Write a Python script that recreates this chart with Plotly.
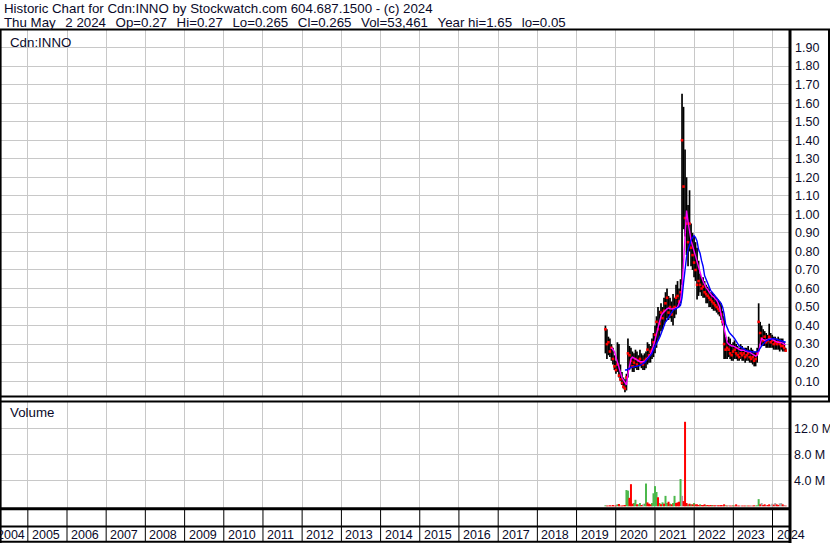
import pandas as pd
import plotly.graph_objects as go

W, H = 830, 543
FONT = "Liberation Sans, Arial, Helvetica, sans-serif"
TXT = "#0a0a2a"

# ---------------- data ----------------
first_bar = "2019-09-27"
bar_step_days = 14

high = [
    0.40, 0.38, 0.34, 0.33, 0.30, 0.28, 0.24, 0.21, 0.31, 0.30,
    0.19, 0.15, 0.12, 0.11, 0.14, 0.33, 0.29, 0.28, 0.26, 0.25,
    0.27, 0.26, 0.24, 0.27, 0.25, 0.24, 0.25, 0.26, 0.31, 0.30,
    0.29, 0.33, 0.36, 0.40, 0.45, 0.50, 0.48, 0.52, 0.50, 0.55,
    0.58, 0.60, 0.56, 0.55, 0.53, 0.57, 0.55, 0.62, 0.64, 0.60,
    0.65, 1.65, 1.58, 1.35, 1.20, 1.05, 1.13, 0.95, 0.90, 0.88,
    0.85, 0.82, 0.75, 0.68, 0.66, 0.66, 0.64, 0.62, 0.61, 0.60,
    0.58, 0.58, 0.57, 0.56, 0.55, 0.54, 0.53, 0.52, 0.48, 0.45,
    0.34, 0.32, 0.34, 0.33, 0.30, 0.31, 0.32, 0.30, 0.29, 0.28,
    0.30, 0.29, 0.28, 0.28, 0.28, 0.29, 0.27, 0.28, 0.27, 0.26,
    0.26, 0.28, 0.52, 0.42, 0.40, 0.38, 0.37, 0.36, 0.35, 0.41,
    0.36, 0.35, 0.34, 0.34, 0.33, 0.34, 0.33, 0.33, 0.33, 0.31,
    0.28,
]
low = [
    0.25, 0.22, 0.24, 0.23, 0.21, 0.19, 0.16, 0.14, 0.15, 0.12,
    0.10, 0.08, 0.06, 0.04, 0.05, 0.12, 0.16, 0.17, 0.15, 0.15,
    0.17, 0.16, 0.16, 0.18, 0.17, 0.16, 0.16, 0.17, 0.19, 0.20,
    0.20, 0.22, 0.23, 0.25, 0.28, 0.32, 0.34, 0.37, 0.38, 0.40,
    0.42, 0.44, 0.43, 0.44, 0.42, 0.40, 0.44, 0.46, 0.50, 0.50,
    0.52, 0.62, 0.92, 0.88, 0.78, 0.72, 0.80, 0.72, 0.70, 0.66,
    0.64, 0.54, 0.56, 0.58, 0.56, 0.55, 0.55, 0.52, 0.52, 0.50,
    0.50, 0.49, 0.48, 0.48, 0.47, 0.46, 0.45, 0.43, 0.40, 0.22,
    0.22, 0.22, 0.23, 0.22, 0.21, 0.21, 0.22, 0.22, 0.21, 0.21,
    0.22, 0.21, 0.21, 0.20, 0.21, 0.21, 0.20, 0.20, 0.19, 0.18,
    0.18, 0.20, 0.26, 0.30, 0.29, 0.29, 0.29, 0.28, 0.28, 0.28,
    0.28, 0.28, 0.27, 0.27, 0.27, 0.27, 0.26, 0.27, 0.26, 0.26,
    0.26,
]
close = [
    0.38, 0.30, 0.31, 0.26, 0.28, 0.22, 0.18, 0.16, 0.19, 0.13,
    0.11, 0.09, 0.07, 0.06, 0.12, 0.25, 0.24, 0.21, 0.18, 0.20,
    0.22, 0.19, 0.21, 0.22, 0.20, 0.19, 0.21, 0.22, 0.27, 0.24,
    0.26, 0.27, 0.31, 0.35, 0.42, 0.38, 0.41, 0.47, 0.44, 0.48,
    0.52, 0.55, 0.47, 0.50, 0.46, 0.49, 0.50, 0.55, 0.56, 0.53,
    0.58, 1.40, 1.15, 0.98, 0.95, 0.85, 0.95, 0.82, 0.78, 0.74,
    0.70, 0.62, 0.64, 0.62, 0.60, 0.61, 0.58, 0.57, 0.56, 0.55,
    0.54, 0.53, 0.52, 0.51, 0.50, 0.49, 0.48, 0.46, 0.42, 0.30,
    0.27, 0.28, 0.27, 0.25, 0.24, 0.26, 0.27, 0.25, 0.24, 0.23,
    0.25, 0.24, 0.25, 0.23, 0.24, 0.25, 0.23, 0.22, 0.23, 0.21,
    0.22, 0.25, 0.42, 0.36, 0.33, 0.32, 0.34, 0.31, 0.32, 0.34,
    0.31, 0.32, 0.30, 0.31, 0.30, 0.31, 0.30, 0.29, 0.29, 0.28,
    0.265,
]
ma_fast = [
    None, None, None, None,
    0.28, 0.27, 0.26, 0.23, 0.20, 0.17,
    0.14, 0.12, 0.105, 0.09, 0.08, 0.14, 0.19, 0.22, 0.23, 0.225,
    0.22, 0.215, 0.21, 0.205, 0.205, 0.205, 0.205, 0.215, 0.225, 0.235,
    0.245, 0.265, 0.29, 0.32, 0.355, 0.39, 0.43, 0.45, 0.465, 0.475,
    0.48, 0.49, 0.495, 0.49, 0.49, 0.49, 0.49, 0.495, 0.50, 0.52,
    0.54, 0.60, 0.74, 0.88, 1.02, 0.96, 0.90, 0.86, 0.83, 0.80,
    0.78, 0.75, 0.72, 0.69, 0.66, 0.64, 0.62, 0.605, 0.595, 0.58,
    0.57, 0.56, 0.555, 0.545, 0.537, 0.52, 0.50, 0.46, 0.42, 0.37,
    0.33, 0.31, 0.30, 0.295, 0.29, 0.29, 0.285, 0.28, 0.275, 0.27,
    0.267, 0.267, 0.267, 0.262, 0.258, 0.258, 0.258, 0.25, 0.245, 0.24,
    0.235, 0.24, 0.26, 0.30, 0.33, 0.325, 0.32, 0.322, 0.325, 0.33,
    0.33, 0.325, 0.32, 0.315, 0.312, 0.31, 0.31, 0.308, 0.305, 0.30,
    0.295,
]
ma_slow = [
    None, None, None, None, None, None, None, None, None, None,
    None, None, None, 0.16, 0.16, 0.165, 0.17, 0.175, 0.177, 0.177,
    0.178, 0.18, 0.181, 0.185, 0.19, 0.195, 0.20, 0.21, 0.22, 0.23,
    0.24, 0.25, 0.27, 0.285, 0.30, 0.32, 0.335, 0.355, 0.38, 0.40,
    0.42, 0.43, 0.445, 0.456, 0.47, 0.483, 0.487, 0.49, 0.495, 0.50,
    0.51, 0.55, 0.63, 0.71, 0.77, 0.81, 0.84, 0.86, 0.875, 0.885,
    0.875, 0.855, 0.81, 0.79, 0.75, 0.72, 0.67, 0.65, 0.63, 0.60,
    0.59, 0.58, 0.57, 0.56, 0.555, 0.545, 0.53, 0.52, 0.50, 0.465,
    0.41, 0.385, 0.37, 0.357, 0.35, 0.34, 0.33, 0.315, 0.30, 0.29,
    0.285, 0.28, 0.273, 0.268, 0.265, 0.263, 0.26, 0.259, 0.258, 0.257,
    0.256, 0.258, 0.265, 0.28, 0.29, 0.30, 0.31, 0.318, 0.322, 0.325,
    0.328, 0.33, 0.33, 0.328, 0.326, 0.324, 0.322, 0.32, 0.316, 0.313,
    0.31,
]
volume_m = [
    0.15, 0.10, 0.10, 0.15, 0.10, 0.20, 0.10, 0.10, 0.30, 0.35,
    0.10, 0.10, 0.15, 0.20, 2.50, 2.40, 1.30, 3.40, 0.40, 0.50,
    1.00, 0.30, 0.30, 0.50, 0.20, 0.30, 0.40, 3.50, 0.60, 0.40,
    0.30, 0.50, 2.00, 3.10, 2.20, 1.40, 0.50, 0.30, 0.60, 0.40,
    1.60, 0.50, 0.70, 0.40, 0.30, 0.50, 1.60, 0.50, 0.60, 0.70,
    4.20, 1.60, 0.80, 13.0, 0.50, 0.30, 0.40, 0.30, 0.30, 0.50,
    0.30, 0.30, 0.20, 0.30, 0.20, 0.20, 0.30, 0.20, 0.20, 0.15,
    0.20, 0.20, 0.15, 0.15, 0.20, 0.15, 0.15, 0.20, 0.15, 0.30,
    0.15, 0.10, 0.15, 0.10, 0.10, 0.15, 0.10, 0.30, 0.10, 0.10,
    0.10, 0.10, 0.10, 0.10, 0.10, 0.10, 0.10, 0.10, 0.10, 0.15,
    0.10, 0.15, 1.10, 0.30, 0.50, 0.20, 0.30, 0.20, 0.20, 0.30,
    0.15, 0.40, 0.25, 0.50, 0.30, 0.20, 0.45, 0.50, 0.30, 0.20,
    0.10,
]
# g = up day (green), r = down day (red), n = unchanged (grey)
volume_dir = (
    "grrrrrrrgr" "rrrrggrrrg" "grggrnggrr" "rggggrgrgr" "ggrgrggrrr"
    "gnrrrgrgrg" "rrrgrrrgrr" "rgrrnrrrrr" "grnrrgrrrr" "nrrrgrrnrr"
    "gggrnrrnrr" "nnrnrrnnrn" "r"
)

years = list(range(2004, 2025))
price_ticks = [0.10, 0.20, 0.30, 0.40, 0.50, 0.60, 0.70, 0.80, 0.90, 1.00,
               1.10, 1.20, 1.30, 1.40, 1.50, 1.60, 1.70, 1.80, 1.90]
volume_ticks = [4e6, 8e6, 12e6]
volume_tick_text = ["4.0 M", "8.0 M", "12.0 M"]

header_1 = "Historic Chart for Cdn:INNO by Stockwatch.com 604.687.1500 - (c) 2024"
header_2 = ("Thu May  2 2024  Op=0.27  Hi=0.27  Lo=0.265  Cl=0.265  "
            "Vol=53,461  Year hi=1.65  lo=0.05")
symbol_label = "Cdn:INNO"
volume_label = "Volume"

# ---------------- layout geometry (pixels) ----------------
X_RANGE = ["2004-04-26", "2024-06-12"]
PLOT_L, PLOT_R = 1, 790
PRICE_TOP, PRICE_BOT = 29, 396
VOL_TOP, VOL_BOT = 401, 509


def px(x):
    return x / W


def py(y):
    return 1 - y / H


dates = pd.date_range(first_bar, periods=len(close), freq=f"{bar_step_days}D")
dstr = [d.strftime("%Y-%m-%d") for d in dates]
year_starts = [f"{y}-01-01" for y in years[1:]]

fig = go.Figure()

# high-low bars
bx, by = [], []
for d, lo, hi in zip(dstr, low, high):
    bx += [d, d, None]
    by += [lo, hi, None]
fig.add_trace(go.Scatter(x=bx, y=by, mode="lines",
                         line=dict(color="#000000", width=1.7),
                         xaxis="x", yaxis="y", hoverinfo="skip"))
# close marks
fig.add_trace(go.Scatter(x=dstr, y=close, mode="markers",
                         marker=dict(symbol="square", size=2.6, color="#ff0000",
                                     line=dict(width=0)),
                         xaxis="x", yaxis="y", hoverinfo="skip"))
# moving averages
fig.add_trace(go.Scatter(x=dstr, y=ma_fast, mode="lines",
                         line=dict(color="#ff00ff", width=1.4),
                         xaxis="x", yaxis="y", hoverinfo="skip"))
fig.add_trace(go.Scatter(x=dstr, y=ma_slow, mode="lines",
                         line=dict(color="#0000ff", width=1.4),
                         xaxis="x", yaxis="y", hoverinfo="skip"))

# volume bars
vol_colors = {"g": "#4cb84c", "n": "#a8a8a8", "r": "#ff0000"}
for code, col in vol_colors.items():
    vx, vy = [], []
    for d, v, c in zip(dstr, volume_m, volume_dir):
        if c == code:
            vx += [d, d, None]
            vy += [0, v * 1e6, None]
    fig.add_trace(go.Scatter(x=vx, y=vy, mode="lines",
                             line=dict(color=col, width=2),
                             xaxis="x2", yaxis="y2", hoverinfo="skip"))

grid = "#c8c8c8"
xcommon = dict(type="date", range=X_RANGE, domain=[px(PLOT_L), px(PLOT_R)],
               tickvals=year_starts, showticklabels=False, ticks="",
               showgrid=True, gridcolor=grid, gridwidth=1, zeroline=False,
               showline=False, fixedrange=True, automargin=False)

fig.update_layout(
    width=W, height=H, autosize=False,
    margin=dict(l=0, r=0, t=0, b=0, pad=0),
    paper_bgcolor="#ffffff", plot_bgcolor="#ffffff",
    showlegend=False,
    font=dict(family=FONT, size=12, color=TXT),
    xaxis=dict(anchor="y", **xcommon),
    xaxis2=dict(anchor="y2", matches="x", **xcommon),
    yaxis=dict(domain=[py(PRICE_BOT), py(PRICE_TOP)], range=[0.02, 2.0],
               anchor="x", side="right", tickvals=price_ticks, tickformat=".2f",
               ticks="", ticklabelstandoff=4, showgrid=True, gridcolor=grid,
               gridwidth=1, zeroline=False, showline=False, fixedrange=True,
               automargin=False, tickfont=dict(size=12.5, color=TXT)),
    yaxis2=dict(domain=[py(VOL_BOT), py(VOL_TOP)], range=[-0.42e6, 16.2e6],
                anchor="x2", side="right", tickvals=volume_ticks,
                ticktext=volume_tick_text, ticks="", ticklabelstandoff=3,
                showgrid=True, gridcolor=grid, gridwidth=1, zeroline=False,
                showline=False, fixedrange=True, automargin=False,
                tickfont=dict(size=12.5, color=TXT)),
)


def hline(y, x0, x1, w):
    return dict(type="line", xref="paper", yref="paper", x0=px(x0), x1=px(x1),
                y0=py(y), y1=py(y), line=dict(color="#000000", width=w), layer="above")


def vline(x, y0, y1, w):
    return dict(type="line", xref="paper", yref="paper", x0=px(x), x1=px(x),
                y0=py(y0), y1=py(y1), line=dict(color="#000000", width=w), layer="above")


shapes = [
    hline(29.5, 0, W, 2),
    hline(396.5, 0, W, 2),
    hline(401.5, 0, W, 2),
    hline(508.8, 0, PLOT_R, 3),
    hline(526.5, 0, PLOT_R, 2),
    hline(541.8, 0, PLOT_R, 2),
    vline(0.6, 29, H, 2),
    vline(PLOT_R, 29, H, 3),
    vline(829, 29, 402, 2),
]
for ys in year_starts:
    shapes.append(dict(type="line", xref="x", yref="paper", x0=ys, x1=ys,
                       y0=py(542), y1=py(509), line=dict(color="#000000", width=1),
                       layer="above"))
fig.update_layout(shapes=shapes)

gap = "\u00a0\u00a0\u2006"
ann = [
    dict(text=header_1, x=px(1.5), y=py(9)),
    dict(text=header_2.replace("  ", gap), x=px(1.5), y=py(22.5)),
    dict(text=symbol_label, x=px(8), y=py(42)),
    dict(text=volume_label, x=px(8), y=py(413)),
]
annotations = []
for a in ann:
    annotations.append(dict(xref="paper", yref="paper", xanchor="left", yanchor="middle",
                            showarrow=False, font=dict(size=13.3, color=TXT, family=FONT),
                            **a))
for y in years:
    if y == years[0]:
        annotations.append(dict(text=str(y), xref="x", yref="paper", x=f"{y + 1}-01-01",
                                y=py(534.5), xanchor="right", yanchor="middle",
                                xshift=-1, showarrow=False,
                                font=dict(size=12.5, color=TXT, family=FONT)))
    else:
        annotations.append(dict(text=str(y), xref="x", yref="paper", x=f"{y}-01-01",
                                y=py(534.5), xanchor="left", yanchor="middle",
                                xshift=2, showarrow=False,
                                font=dict(size=12.5, color=TXT, family=FONT)))
fig.update_layout(annotations=annotations)

fig.write_html(
    "out.html",
    config={"displayModeBar": False},
    post_script="document.body.style.margin='0px';document.body.style.padding='0px';"
                "document.documentElement.style.overflow='hidden';",
)
